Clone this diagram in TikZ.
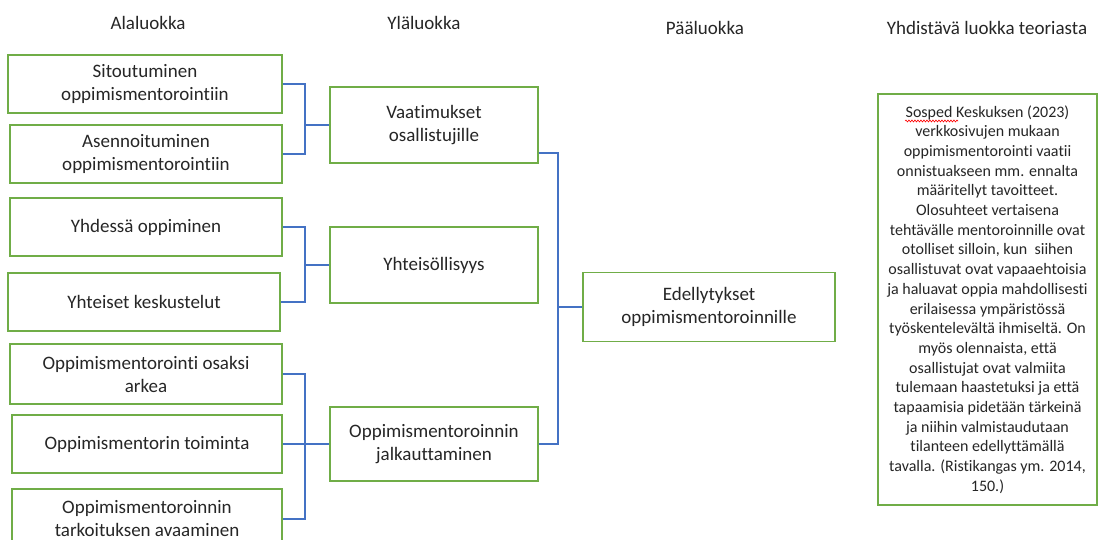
\documentclass[tikz,border=0pt]{standalone}
\usepackage{fontspec}
\setmainfont{Carlito}[Ligatures={NoCommon}]
\usetikzlibrary{decorations.pathmorphing}
\definecolor{boxgreen}{RGB}{112,173,71}
\definecolor{linkblue}{RGB}{68,114,196}
\definecolor{txt}{RGB}{38,38,38}
\tikzset{
  catbox/.style={draw=boxgreen, line width=1.3pt, fill=white, inner sep=0pt, align=center, text=txt,
    font=\fontsize{19}{23}\selectfont},
  header/.style={inner sep=0pt, text=txt, font=\fontsize{19}{23}\selectfont},
  link/.style={draw=linkblue, line width=1.3pt}
}
\begin{document}
\begin{tikzpicture}[x=1pt,y=-1pt]
\useasboundingbox (0,0) rectangle (1099,540);
\clip (0,0) rectangle (1099,540);
% headers
\node[header] (h1) at (148,23) {Alaluokka};
\node[header] (h2) at (424,23) {Yläluokka};
\node[header] (h3) at (705,28) {Pääluokka};
\node[header] (h4) at (987,28) {Yhdistävä luokka teoriasta};
% sub categories
\node[catbox, minimum width=274, minimum height=58] (b1) at (145,84) {Sitoutuminen\\oppimismentorointiin};
\node[catbox, minimum width=272, minimum height=58] (b2) at (146,154) {Asennoituminen\\oppimismentorointiin};
\node[catbox, minimum width=272, minimum height=58] (b3) at (146,227) {Yhdessä oppiminen};
\node[catbox, minimum width=272, minimum height=58] (b4) at (144,302) {Yhteiset keskustelut};
\node[catbox, minimum width=272, minimum height=60] (b5) at (146,374) {Oppimismentorointi osaksi\\arkea};
\node[catbox, minimum width=270, minimum height=58] (b6) at (147,444) {Oppimismentorin toiminta};
\node[catbox, minimum width=270, minimum height=60] (b7) at (147,519) {Oppimismentoroinnin\\tarkoituksen avaaminen};
% upper categories
\node[catbox, minimum width=208, minimum height=76] (vaat) at (434,125) {Vaatimukset\\osallistujille};
\node[catbox, minimum width=208, minimum height=76] (yht) at (434,265) {Yhteisöllisyys};
\node[catbox, minimum width=208, minimum height=74] (jal) at (434,444) {Oppimismentoroinnin\\jalkauttaminen};
% main category
\node[catbox, minimum width=252, minimum height=69] (ed) at (709,307) {Edellytykset\\oppimismentoroinnille};
% theory box
\node[catbox, minimum width=219, minimum height=411, font=\fontsize{16}{19.7}\selectfont] (teo) at (987.5,299.5) {Sosped Keskuksen (2023)\\verkkosivujen mukaan\\oppimismentorointi vaatii\\onnistuakseen mm. ennalta\\määritellyt tavoitteet.\\Olosuhteet vertaisena\\tehtävälle mentoroinnille ovat\\otolliset silloin, kun\ \ siihen\\osallistuvat ovat vapaaehtoisia\\ja haluavat oppia mahdollisesti\\erilaisessa ympäristössä\\työskentelevältä ihmiseltä. On\\myös olennaista, että\\osallistujat ovat valmiita\\tulemaan haastetuksi ja että\\tapaamisia pidetään tärkeinä\\ja niihin valmistaudutaan\\tilanteen edellyttämällä\\tavalla. (Ristikangas ym. 2014,\\150.)};
\draw[red, line width=0.6pt, decorate, decoration={snake, amplitude=1pt, segment length=3pt}] (905,121) -- (958,121);
% junctions
\coordinate (j1) at (305,125);
\coordinate (j2) at (305,265);
\coordinate (j3) at (305,444);
\coordinate (j4) at (558,307);
% connectors
\draw[link] (b1.east) -| (j1) |- (b2.east);
\draw[link] (j1) -- (vaat.west);
\draw[link] (b3.east) -| (j2) |- (b4.east);
\draw[link] (j2) -- (yht.west);
\draw[link] (b5.east) -| (j3) |- (b7.east);
\draw[link] (b6.east) -- (jal.west);
\draw[link] ([yshift=-28pt]vaat.east) -| (j4) |- (jal.east);
\draw[link] (j4) -- (ed.west);
\end{tikzpicture}
\end{document}
